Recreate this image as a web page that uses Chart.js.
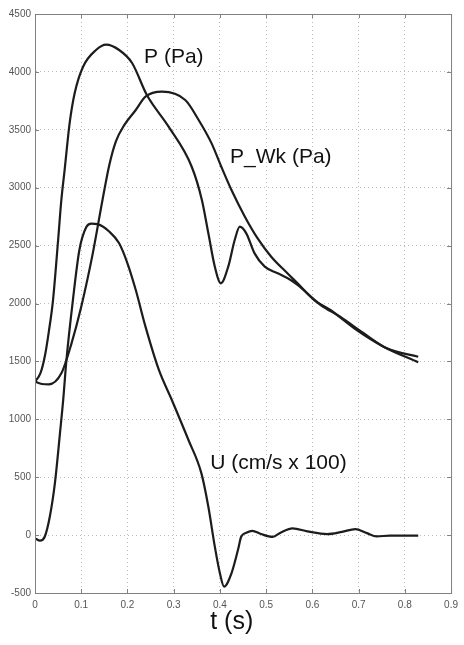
<!DOCTYPE html>
<html>
<head>
    <title>Pressure and velocity waveforms</title>
    <meta charset="utf-8">
    <style>
        body { margin: 0; background: #fff; }
        #wrap { width: 464px; height: 645px; position: relative; }
    </style>
</head>
<body>
    <div id="wrap"><canvas id="waveChart"></canvas></div>

    <script src="https://cdn.jsdelivr.net/npm/chart.js"></script>
    <script>
        // time (s) and values
        var tP = [0, 0.012, 0.022, 0.03, 0.039, 0.05, 0.057, 0.064, 0.075, 0.086, 0.104, 0.132, 0.154, 0.182, 0.21, 0.242, 0.289, 0.339, 0.361, 0.375, 0.389, 0.402, 0.418, 0.432, 0.443, 0.457, 0.475, 0.497, 0.525, 0.553, 0.568, 0.618, 0.66, 0.711, 0.761, 0.829];
        var pVals = [1325, 1400, 1560, 1760, 2030, 2548, 2894, 3150, 3560, 3820, 4045, 4189, 4235, 4189, 4077, 3800, 3527, 3181, 2894, 2606, 2318, 2174, 2318, 2548, 2663, 2606, 2433, 2318, 2261, 2203, 2160, 1987, 1886, 1743, 1613, 1540];

        var tWk = [0, 0.015, 0.03, 0.057, 0.079, 0.1, 0.125, 0.146, 0.161, 0.175, 0.193, 0.218, 0.239, 0.275, 0.325, 0.354, 0.382, 0.403, 0.425, 0.454, 0.482, 0.511, 0.546, 0.568, 0.604, 0.639, 0.696, 0.754, 0.829];
        var wkVals = [1325, 1305, 1302, 1397, 1656, 1972, 2433, 2894, 3200, 3400, 3540, 3671, 3786, 3829, 3757, 3585, 3383, 3181, 2980, 2750, 2560, 2404, 2261, 2174, 2030, 1944, 1771, 1627, 1492];

        var tU = [0, 0.011, 0.021, 0.032, 0.043, 0.054, 0.061, 0.068, 0.082, 0.096, 0.111, 0.122, 0.135, 0.161, 0.182, 0.2, 0.218, 0.239, 0.268, 0.296, 0.332, 0.36, 0.375, 0.389, 0.4, 0.409, 0.425, 0.439, 0.446, 0.457, 0.47, 0.489, 0.514, 0.532, 0.557, 0.589, 0.632, 0.664, 0.693, 0.718, 0.739, 0.768, 0.829];
        var uVals = [-28, -48, -14, 159, 447, 879, 1167, 1512, 2030, 2462, 2660, 2690, 2685, 2620, 2520, 2347, 2116, 1800, 1426, 1167, 821, 533, 245, -100, -330, -445, -330, -129, -14, 20, 37, 9, -15, 23, 58, 32, 9, 28, 52, 17, -11, -5, -5];

        // curve labels: [text, t, value]
        var curveLabels = [
            ['P (Pa)', 0.236, 4129],
            ['P_Wk (Pa)', 0.422, 3265],
            ['U (cm/s x 100)', 0.379, 622]
        ];
        var xTitle = 't (s)';

        function toPoints(ts, vs) {
            return ts.map(function (t, i) { return { x: t, y: vs[i] }; });
        }

        function line(data) {
            return {
                data: data,
                borderColor: '#1c1c1c',
                borderWidth: 2.2,
                pointRadius: 0,
                fill: false,
                cubicInterpolationMode: 'monotone'
            };
        }

        // box round the plot plus matlab style inward ticks
        var framePlugin = {
            id: 'frame',
            afterDraw: function (chart) {
                var ctx = chart.ctx;
                var a = chart.chartArea;
                var xs = chart.scales.x, ys = chart.scales.y;
                ctx.save();
                ctx.setLineDash([]);
                ctx.strokeStyle = '#808080';
                ctx.lineWidth = 1;
                ctx.strokeRect(a.left + 0.5, a.top + 0.5, a.right - a.left, a.bottom - a.top);
                ctx.beginPath();
                xs.ticks.forEach(function (tk) {
                    var px = Math.round(xs.getPixelForValue(tk.value)) + 0.5;
                    ctx.moveTo(px, a.bottom); ctx.lineTo(px, a.bottom - 4);
                    ctx.moveTo(px, a.top); ctx.lineTo(px, a.top + 4);
                });
                ys.ticks.forEach(function (tk) {
                    var py = Math.round(ys.getPixelForValue(tk.value)) + 0.5;
                    ctx.moveTo(a.left, py); ctx.lineTo(a.left + 4, py);
                    ctx.moveTo(a.right, py); ctx.lineTo(a.right - 4, py);
                });
                ctx.stroke();

                ctx.fillStyle = '#111';
                ctx.textBaseline = 'middle';
                ctx.textAlign = 'left';
                ctx.font = '21px "Liberation Sans", Arial, sans-serif';
                curveLabels.forEach(function (lb) {
                    ctx.fillText(lb[0], xs.getPixelForValue(lb[1]), ys.getPixelForValue(lb[2]));
                });
                ctx.font = '25px "Liberation Sans", Arial, sans-serif';
                ctx.fillText(xTitle, xs.getPixelForValue(0.379), a.bottom + 29);
                ctx.restore();
            }
        };

        var ctx = document.getElementById('waveChart').getContext('2d');
        new Chart(ctx, {
            type: 'line',
            data: {
                datasets: [
                    line(toPoints(tP, pVals)),
                    line(toPoints(tWk, wkVals)),
                    line(toPoints(tU, uVals))
                ]
            },
            options: {
                responsive: true,
                maintainAspectRatio: false,
                animation: false,
                layout: { padding: { top: 14, right: 9, left: 0, bottom: 0 } },
                plugins: {
                    legend: { display: false },
                    tooltip: { enabled: false }
                },
                scales: {
                    x: {
                        type: 'linear',
                        min: 0,
                        max: 0.9,
                        afterFit: function (s) { s.height = 52; },
                        border: { color: '#808080', dash: [1, 3] },
                        grid: { color: '#bdbdbd', drawTicks: false },
                        ticks: {
                            stepSize: 0.1,
                            padding: 6,
                            color: '#555',
                            font: { size: 10, family: '"Liberation Sans", Arial, sans-serif' },
                            callback: function (v) { return v === 0 ? '0' : v.toFixed(1); }
                        }
                    },
                    y: {
                        min: -500,
                        max: 4500,
                        afterFit: function (s) { s.width = 35; },
                        border: { color: '#808080', dash: [1, 3] },
                        grid: { color: '#bdbdbd', drawTicks: false },
                        ticks: {
                            stepSize: 500,
                            padding: 4,
                            color: '#555',
                            font: { size: 10, family: '"Liberation Sans", Arial, sans-serif' },
                            callback: function (v) { return String(v); }
                        }
                    }
                }
            },
            plugins: [framePlugin]
        });
    </script>
</body>
</html>
